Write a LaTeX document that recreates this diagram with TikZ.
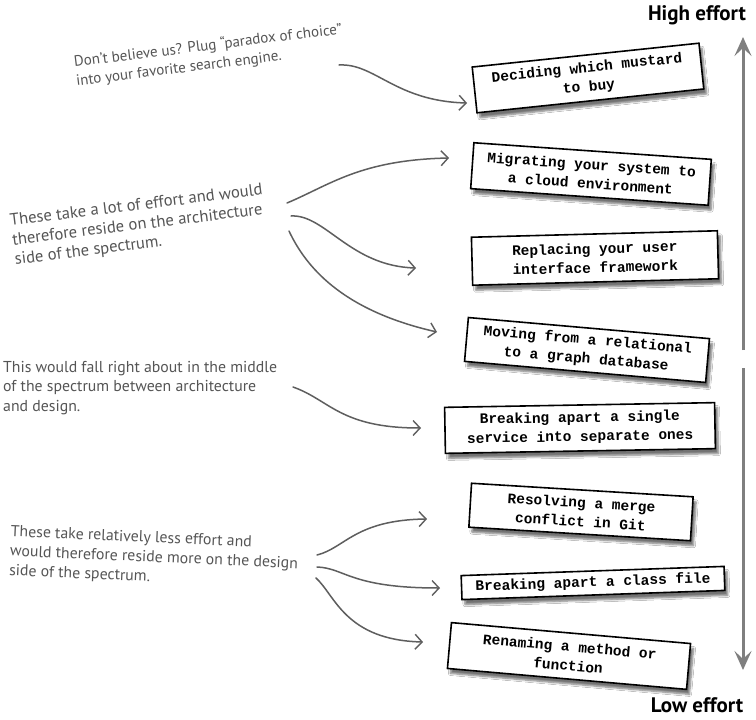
\documentclass[tikz,border=0pt]{standalone}
\usepackage{fontspec}
\setmainfont{PT Sans}
\newfontfamily\boxfont{Liberation Mono}[BoldFont={* Bold}]
\newfontfamily\headfont{PT Sans}
\usetikzlibrary{shadows.blur,arrows.meta}
\definecolor{arrgray}{HTML}{5E5E5E}
\definecolor{axisgray}{HTML}{7F7F7F}
\definecolor{notegray}{HTML}{555555}
\tikzset{
  itembox/.style={draw=black, line width=1.6pt, fill=white, align=center,
    inner sep=0pt, font=\boxfont\bfseries\fontsize{14.5}{19}\selectfont,
    blur shadow={shadow xshift=3pt, shadow yshift=-5pt, shadow blur steps=6, shadow opacity=55}},
  note/.style={anchor=north west, inner sep=0pt, align=left, text=notegray,
    font=\fontsize{15.8}{19.5}\selectfont},
  curvearrow/.style={draw=arrgray, line width=1.5pt, line cap=round,
    -{Straight Barb[length=7pt,width=15pt,line width=1.4pt]}},
  axisarrow/.style={draw=axisgray, line width=3pt,
    -{Stealth[length=19pt,width=17pt,inset=8pt]}},
  headlabel/.style={inner sep=0pt, font=\headfont\bfseries\fontsize{21}{24}\selectfont}
}
\begin{document}
\begin{tikzpicture}[x=1pt,y=-1pt]
\useasboundingbox (0,0) rectangle (756,720);
\fill[white] (0,0) rectangle (756,720);

% axis
\coordinate (upS) at (743,350);
\coordinate (upE) at (743,37);
\coordinate (dnS) at (743,368);
\coordinate (dnE) at (743,670);
\draw[axisarrow] (upS) -- (upE);
\draw[axisarrow] (dnS) -- (dnE);
\node[headlabel] (high) at (697,15) {High effort};
\node[headlabel] (low) at (697,705) {Low effort};

% boxes
\node[itembox, minimum width=228pt, minimum height=46pt, rotate=6] (b1) at (588,78)
  {Deciding which mustard\\to buy};
\node[itembox, minimum width=238pt, minimum height=46pt, rotate=-4] (b2) at (591,174)
  {Migrating your system to\\a cloud environment};
\node[itembox, minimum width=246pt, minimum height=48pt, rotate=1.5] (b3) at (595,258)
  {Replacing your user\\interface framework};
\node[itembox, minimum width=242pt, minimum height=44pt, rotate=-5] (b4) at (587,350)
  {Moving from a relational\\to a graph database};
\node[itembox, minimum width=270pt, minimum height=46pt, rotate=1] (b5) at (580,428)
  {Breaking apart a single\\service into separate ones};
\node[itembox, minimum width=222pt, minimum height=44pt, rotate=-3.5] (b6) at (581,512)
  {Resolving a merge\\conflict in Git};
\node[itembox, minimum width=263pt, minimum height=24pt, rotate=2] (b7) at (593,583)
  {Breaking apart a class file};
\node[itembox, minimum width=240pt, minimum height=46pt, rotate=-5] (b8) at (569,656)
  {Renaming a method or\\function};

% notes
\node[note, rotate=7, font=\fontsize{15}{19}\selectfont] (n1) at (73,55)
  {Don’t believe us? Plug “paradox of choice”\\into your favorite search engine.};
\node[note, rotate=7, font=\fontsize{16.6}{19.5}\selectfont] (n2) at (9,214)
  {These take a lot of effort and would\\therefore reside on the architecture\\side of the spectrum.};
\node[note] (n3) at (3,361)
  {This would fall right about in the middle\\of the spectrum between architecture\\and design.};
\node[note, rotate=-2.5] (n4) at (11,525)
  {These take relatively less effort and\\would therefore reside more on the design\\side of the spectrum.};

% arrow endpoints
\coordinate (s1) at (339,65);  \coordinate (e1) at (467,103);
\coordinate (s2) at (287,203); \coordinate (e2) at (449,158);
\coordinate (s3) at (291,216); \coordinate (e3) at (416,268);
\coordinate (s4) at (289,231); \coordinate (e4) at (437,332);
\coordinate (s5) at (293,387); \coordinate (e5) at (421,428);
\coordinate (s6) at (317,555); \coordinate (e6) at (427,519);
\coordinate (s7) at (317,567); \coordinate (e7) at (440,588);
\coordinate (s8) at (316,578); \coordinate (e8) at (423,642);

\draw[curvearrow] (s1) .. controls (375,63) and (395,101) .. (e1);
\draw[curvearrow] (s2) .. controls (330,185) and (360,160) .. (e2);
\draw[curvearrow] (s3) .. controls (325,214) and (350,266) .. (e3);
\draw[curvearrow] (s4) .. controls (305,265) and (340,310) .. (e4);
\draw[curvearrow] (s5) .. controls (330,400) and (340,428) .. (e5);
\draw[curvearrow] (s6) .. controls (345,548) and (355,520) .. (e6);
\draw[curvearrow] (s7) .. controls (345,568) and (350,588) .. (e7);
\draw[curvearrow] (s8) .. controls (335,595) and (345,640) .. (e8);
\end{tikzpicture}
\end{document}
